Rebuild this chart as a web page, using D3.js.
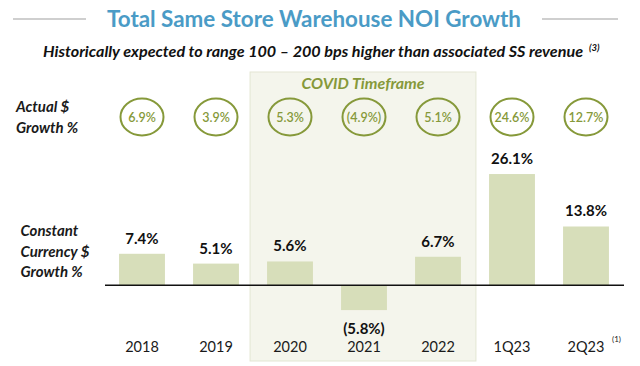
<!DOCTYPE html>
<html>
<head>
<meta charset="utf-8">
<title>Total Same Store Warehouse NOI Growth</title>
<script src="https://cdn.jsdelivr.net/npm/d3@7"></script>
<style>
  body { margin: 0; background: #fff; }
  svg { display: block; }
  text { font-family: Lato, "Open Sans", sans-serif; }
</style>
</head>
<body>
<div id="chart"></div>
<script>
// data
var categories = ['2018', '2019', '2020', '2021', '2022', '1Q23', '2Q23'];
var constantGrowth = [7.4, 5.1, 5.6, -5.8, 6.7, 26.1, 13.8];
var actualGrowth = [6.9, 3.9, 5.3, -4.9, 5.1, 24.6, 12.7];
var covidYears = ['2020', '2021', '2022'];

var width = 640, height = 366;

var green = '#86993a', barFill = '#d7deba', titleBlue = '#4a9bc6';

var svg = d3.select('#chart').append('svg')
  .attr('width', width)
  .attr('height', height);

var x = d3.scaleBand()
  .domain(categories)
  .range([105, 623])
  .paddingInner(0.38)
  .paddingOuter(0.19);

var y = d3.scaleLinear()
  .domain([-10, 30])
  .range([328, 157.4]);

function fmt(v) {
  return v < 0 ? '(' + Math.abs(v).toFixed(1) + '%)' : v.toFixed(1) + '%';
}

// covid shading
var cx0 = x(covidYears[0]) - 17,
    cx1 = x(covidYears[covidYears.length - 1]) + x.bandwidth() + 15;
svg.append('rect')
  .attr('x', cx0).attr('y', 72)
  .attr('width', cx1 - cx0).attr('height', 289)
  .attr('fill', '#f4f5ec')
  .attr('stroke', '#e3e6d3')
  .attr('stroke-width', 1);

svg.append('text')
  .attr('x', (cx0 + cx1) / 2).attr('y', 89)
  .attr('text-anchor', 'middle')
  .attr('fill', green)
  .style('font-size', '16px')
  .style('font-weight', 'bold')
  .style('font-style', 'italic')
  .text('COVID Timeframe');

// title
svg.append('line').attr('x1', 13).attr('x2', 86).attr('y1', 19).attr('y2', 19)
  .attr('stroke', '#cfcfcf').attr('stroke-width', 2);
svg.append('line').attr('x1', 542).attr('x2', 618).attr('y1', 19).attr('y2', 19)
  .attr('stroke', '#cfcfcf').attr('stroke-width', 2);

svg.append('text')
  .attr('x', 107).attr('y', 27)
  .attr('textLength', 414).attr('lengthAdjust', 'spacingAndGlyphs')
  .attr('fill', titleBlue)
  .style('font-size', '23px')
  .style('font-weight', 'bold')
  .text('Total Same Store Warehouse NOI Growth');

svg.append('text')
  .attr('x', 43).attr('y', 56.5)
  .attr('textLength', 540).attr('lengthAdjust', 'spacingAndGlyphs')
  .attr('fill', '#111')
  .style('font-size', '15px')
  .style('font-weight', 'bold')
  .style('font-style', 'italic')
  .text('Historically expected to range 100 \u2013 200 bps higher than associated SS revenue');

svg.append('text')
  .attr('x', 589).attr('y', 51)
  .attr('fill', '#111')
  .style('font-size', '9.5px')
  .style('font-weight', 'bold')
  .style('font-style', 'italic')
  .text('(3)');

// row labels
var rowLabel = svg.append('g')
  .attr('fill', '#1a1a1a')
  .style('font-size', '15px')
  .style('font-weight', 'bold')
  .style('font-style', 'italic');

rowLabel.selectAll('text.actual')
  .data(['Actual $', 'Growth %'])
  .enter().append('text')
  .attr('x', 16)
  .attr('y', function(d, i) { return 111.5 + i * 21; })
  .text(function(d) { return d; });

rowLabel.selectAll('text.constant')
  .data(['Constant', 'Currency $', 'Growth %'])
  .enter().append('text')
  .attr('x', 20.5)
  .attr('y', function(d, i) { return 236 + i * 20.7; })
  .text(function(d) { return d; });

// actual growth ellipses
var bubbles = svg.append('g').selectAll('g')
  .data(categories)
  .enter().append('g')
  .attr('transform', function(d) {
    return 'translate(' + (x(d) + x.bandwidth() / 2) + ',117)';
  });

bubbles.append('ellipse')
  .attr('rx', 21.5).attr('ry', 18.5)
  .attr('fill', 'none')
  .attr('stroke', green)
  .attr('stroke-width', 2);

bubbles.append('text')
  .attr('text-anchor', 'middle')
  .attr('dy', 4.5)
  .attr('fill', green)
  .style('font-size', '12.5px')
  .style('font-weight', '600')
  .text(function(d, i) { return fmt(actualGrowth[i]); });

// bars
svg.append('g').selectAll('rect')
  .data(categories)
  .enter().append('rect')
  .attr('x', function(d) { return x(d); })
  .attr('width', x.bandwidth())
  .attr('y', function(d, i) { return y(Math.max(0, constantGrowth[i])); })
  .attr('height', function(d, i) { return Math.abs(y(constantGrowth[i]) - y(0)); })
  .attr('fill', barFill);

// baseline
svg.append('line')
  .attr('x1', x.range()[0]).attr('x2', x.range()[1] + 1)
  .attr('y1', y(0)).attr('y2', y(0))
  .attr('stroke', '#111')
  .attr('stroke-width', 1.5);

// value labels
svg.append('g').selectAll('text')
  .data(categories)
  .enter().append('text')
  .attr('x', function(d) { return x(d) + x.bandwidth() / 2; })
  .attr('y', function(d, i) {
    var v = constantGrowth[i];
    return v < 0 ? 334 : y(v) - 10;
  })
  .attr('text-anchor', 'middle')
  .attr('fill', '#111')
  .style('font-size', '15px')
  .style('font-weight', 'bold')
  .text(function(d, i) { return fmt(constantGrowth[i]); });

// category axis labels
var xAxis = d3.axisBottom(x).tickSize(0).tickPadding(0);
var gx = svg.append('g')
  .attr('transform', 'translate(0,342)')
  .call(xAxis);
gx.select('.domain').remove();
gx.selectAll('text')
  .attr('fill', '#1a1a1a')
  .style('font-family', 'Lato, sans-serif')
  .style('font-size', '14.5px');

svg.append('text')
  .attr('x', 612).attr('y', 342)
  .attr('fill', '#1a1a1a')
  .style('font-size', '8px')
  .text('(1)');
</script>
</body>
</html>
